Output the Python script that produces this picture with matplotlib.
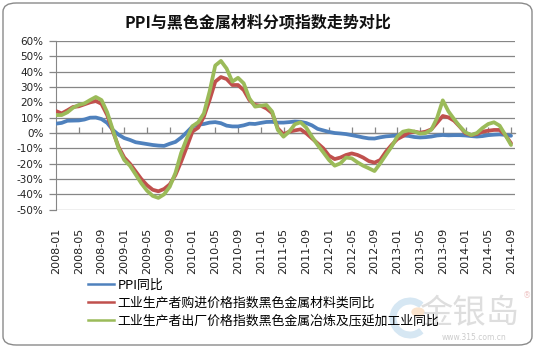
import matplotlib
matplotlib.use('Agg')
import matplotlib.pyplot as plt
from matplotlib.lines import Line2D
from matplotlib.patches import FancyBboxPatch, Arc, Circle
import pandas as pd

plt.rcParams['font.family'] = ['Noto Sans CJK SC', 'DejaVu Sans']

# monthly categories 2008-01 .. 2014-09
months = list(pd.period_range('2008-01', '2014-09', freq='M').strftime('%Y-%m'))

# PPI同比 (%)
ppi = [6.1, 6.6, 8.0, 8.1, 8.2, 8.8, 10.0, 10.1, 9.1, 6.6, 2.0, -1.1,
       -3.3, -4.5, -6.0, -6.6, -7.2, -7.8, -8.2, -8.4, -7.0, -5.8, -3.0, 0.5,
       4.3, 5.4, 5.9, 6.8, 7.1, 6.4, 4.8, 4.3, 4.3, 5.0, 6.1, 5.9,
       6.6, 7.2, 7.3, 6.8, 6.8, 7.1, 7.5, 7.3, 6.5, 5.0, 2.7, 1.7,
       0.7, 0.0, -0.3, -0.7, -1.4, -2.1, -2.9, -3.5, -3.6, -2.8, -2.2, -1.9,
       -1.6, -1.6, -1.9, -2.6, -2.9, -2.7, -2.3, -1.6, -1.3, -1.5, -1.4, -1.4,
       -1.6, -2.0, -2.3, -2.0, -1.4, -1.1, -0.9, -1.2, -1.8]

# 工业生产者购进价格指数 黑色金属材料类同比 (%)
purchase_ferrous = [14.3, 12.8, 14.8, 17.0, 17.4, 18.7, 20.0, 20.9, 19.0, 11.7, 1.0, -9.0,
                    -16.0, -20.0, -25.0, -30.0, -34.0, -37.0, -38.0, -36.5, -33.5, -27.4, -18.7, -9.0,
                    1.0, 3.5, 10.7, 21.5, 33.5, 36.5, 35.2, 31.3, 31.3, 28.0, 21.5, 18.3,
                    17.8, 16.0, 13.0, 3.0, -0.9, 0.9, 1.7, 2.4, -0.2, -3.5, -6.7, -10.0,
                    -14.8, -17.0, -16.0, -14.3, -13.3, -14.3, -16.0, -18.3, -19.3, -17.6, -12.2, -7.8,
                    -4.0, -2.0, 0.2, 0.9, 0.2, 0.9, 2.4, 6.7, 11.1, 10.2, 8.0, 4.1,
                    -0.2, -1.3, -0.7, 0.9, 1.5, 2.0, 2.0, -1.3, -6.7]

# 工业生产者出厂价格指数 黑色金属冶炼及压延加工业同比 (%)
output_ferrous = [11.7, 11.7, 13.5, 16.5, 18.3, 19.3, 21.5, 23.5, 21.5, 13.5, 2.0, -10.0,
                  -17.6, -21.3, -27.0, -32.8, -37.6, -41.0, -42.3, -40.0, -35.0, -26.0, -13.0, -3.5,
                  4.5, 7.0, 12.8, 27.0, 44.0, 47.0, 42.0, 33.5, 36.0, 32.4, 22.6, 17.2,
                  17.8, 18.3, 14.0, 2.0, -2.4, 0.9, 5.7, 7.0, 3.5, -2.4, -7.8, -12.6,
                  -17.6, -21.3, -19.8, -16.0, -16.5, -19.1, -21.3, -23.0, -24.8, -19.8, -14.3, -8.9,
                  -2.4, 0.9, 1.7, 1.0, -0.4, 0.0, 2.2, 9.8, 21.3, 14.1, 9.0, 4.3,
                  0.4, -1.3, 0.0, 3.3, 5.9, 7.0, 4.8, -1.3, -7.8]

series_labels = ['PPI同比',
                 '工业生产者购进价格指数黑色金属材料类同比',
                 '工业生产者出厂价格指数黑色金属冶炼及压延加工业同比']
series_colors = ['#4F81BD', '#C0504D', '#9BBB59']
y_ticks = list(range(-50, 61, 10))

W, H = 535, 348
fig = plt.figure(figsize=(W / 100, H / 100), dpi=100)

# rounded chart border
fig.patches.append(FancyBboxPatch((3 / W, 3 / H), 1 - 6 / W, 1 - 6 / H,
                                  boxstyle='round,pad=0,rounding_size=0.025',
                                  transform=fig.transFigure, facecolor='white',
                                  edgecolor='#8a8a8a', linewidth=1.0, zorder=-5))

# site watermark (behind the legend)
fig.patches.append(Arc((410 / W, 1 - 318 / H), 34 / W, 34 / H, theta1=60, theta2=300,
                       transform=fig.transFigure, color='#d6e7f3', lw=5, zorder=-4))
fig.patches.append(Circle((418 / W, 1 - 312 / H), 6 / W, transform=fig.transFigure,
                          color='#fae3cc', zorder=-4))
fig.text(469 / W, 1 - 314 / H, '金银岛', ha='center', va='center', fontsize=24,
         color='#dedede', zorder=-4)
fig.text(474 / W, 1 - 338 / H, 'www.315.com.cn', ha='center', va='center',
         fontsize=5.5, family='DejaVu Sans', color='#cccccc', zorder=-4)
fig.text(527 / W, 1 - 296 / H, '®', ha='center', va='center', fontsize=6,
         family='DejaVu Sans', color='#f0c8c8', zorder=-4)

ax = fig.add_axes([56 / W, 1 - 209.7 / H, (515 - 56) / W, (209.7 - 41) / H])
ax.set_facecolor('none')

x = list(range(len(months)))
for vals, color in zip([ppi, purchase_ferrous, output_ferrous], series_colors):
    ax.plot(x, vals, color=color, lw=2.7, solid_joinstyle='round',
            solid_capstyle='round', zorder=3)

ax.set_xlim(0, 80.7)
ax.set_ylim(-50, 60)
ax.set_yticks(y_ticks)
ax.set_yticklabels([f'{v}%' for v in y_ticks], fontsize=7.5, family='DejaVu Sans',
                   color='#222222')
ax.grid(axis='y', color='#868686', lw=0.9)
ax.set_axisbelow(True)

for side in ['top', 'right', 'bottom']:
    ax.spines[side].set_visible(False)
ax.spines['left'].set_color('#868686')
ax.tick_params(axis='y', direction='out', length=5, width=0.9, color='#868686', pad=4)

# month labels along the bottom, every 4 months
label_idx = x[::4]
ax.set_xticks(label_idx)
ax.set_xticklabels([months[i] for i in label_idx], rotation=90, fontsize=8,
                   family='DejaVu Sans', color='#222222')
ax.tick_params(axis='x', length=0, pad=13)

# horizontal category axis crossing at 0%
zero_axis = ax.secondary_xaxis(50 / 110)
zero_axis.set_xticks(label_idx)
zero_axis.tick_params(axis='x', direction='in', length=4, width=0.9,
                      color='#868686', labelbottom=False, labeltop=False,
                      bottom=True, top=False)
zero_axis.spines['bottom'].set_color('#868686')
zero_axis.spines['bottom'].set_linewidth(0.9)
zero_axis.spines['top'].set_visible(False)

fig.text(258 / W, 1 - 22 / H, 'PPI与黑色金属材料分项指数走势对比',
         ha='center', va='center', fontsize=11.5, fontweight='bold', color='#111111')

handles = [Line2D([], [], color=c, lw=1.8) for c in series_colors]
fig.legend(handles, series_labels, loc='center left',
           bbox_to_anchor=(88 / W, 1 - 303 / H), frameon=False,
           fontsize=9.3, handlelength=2.0, handletextpad=0.3,
           labelspacing=0.4, borderpad=0, borderaxespad=0)

fig.savefig('out.png', dpi=100)
